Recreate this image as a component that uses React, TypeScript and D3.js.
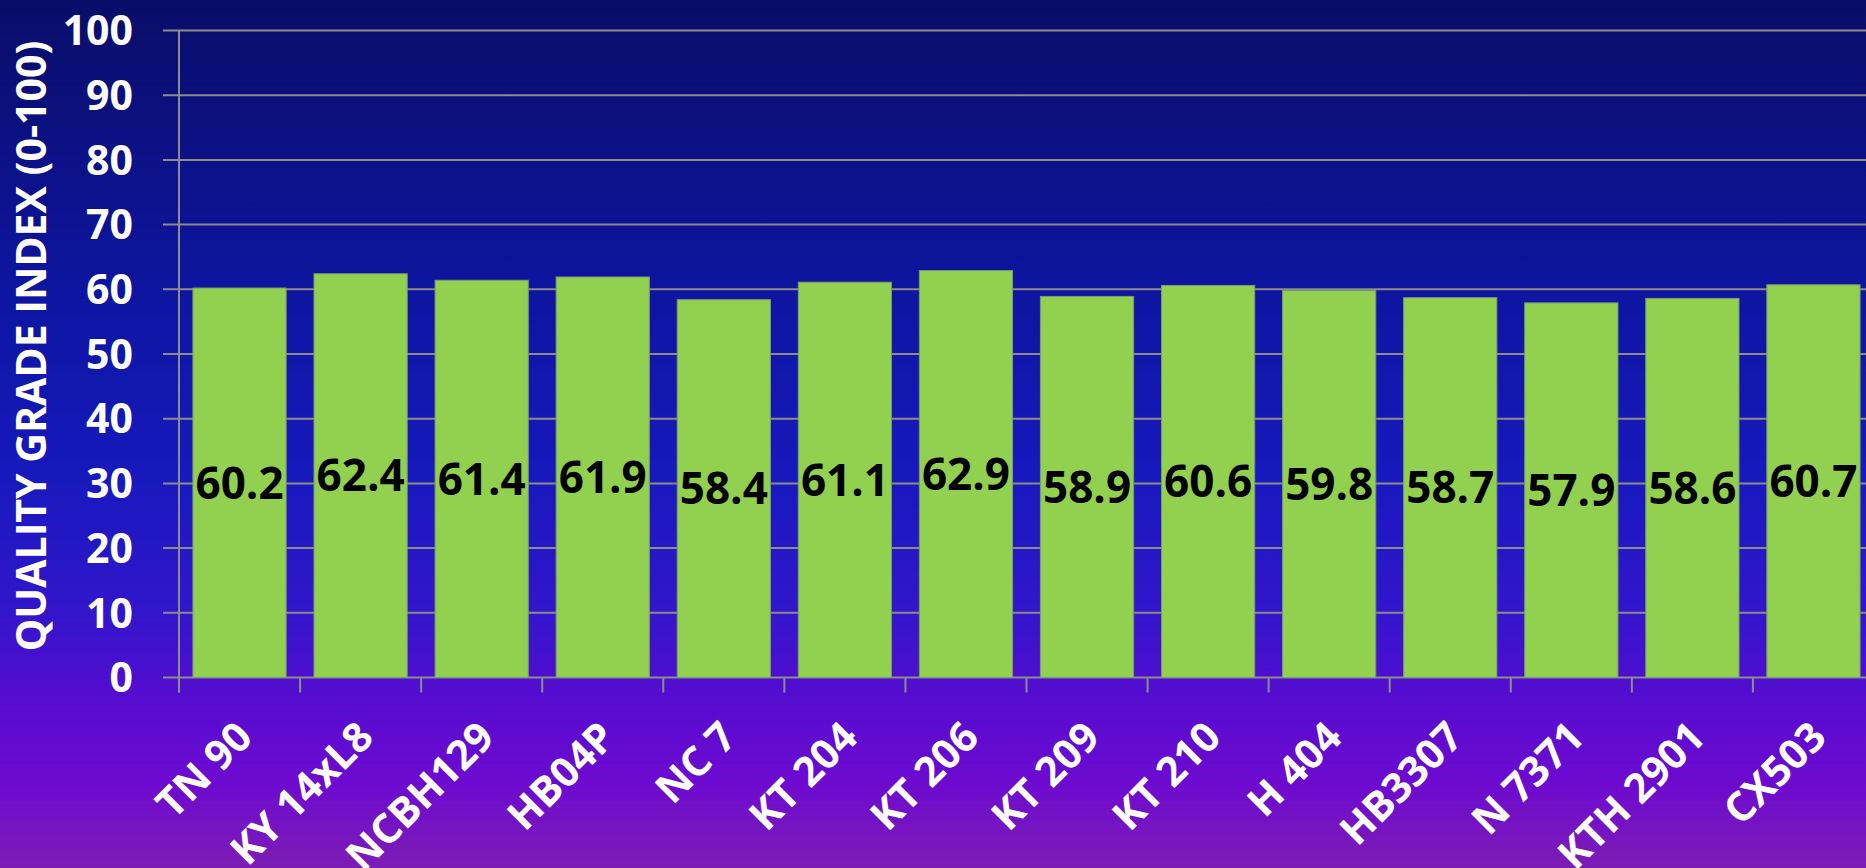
import React from 'react';
import * as d3 from 'd3';

const categories = [
  'TN 90', 'KY 14xL8', 'NCBH129', 'HB04P', 'NC 7', 'KT 204', 'KT 206',
  'KT 209', 'KT 210', 'H 404', 'HB3307', 'N 7371', 'KTH 2901', 'CX503',
];
const values = [60.2, 62.4, 61.4, 61.9, 58.4, 61.1, 62.9, 58.9, 60.6, 59.8, 58.7, 57.9, 58.6, 60.7];
const yTicks = [0, 10, 20, 30, 40, 50, 60, 70, 80, 90, 100];
const yTitle = 'QUALITY GRADE INDEX (0-100)';

const W = 1866;
const H = 868;
const FONT = '"Open Sans", "DejaVu Sans", sans-serif';

export default function App() {
  // plot area runs past the right edge, as in the original slide
  const plot = { left: 179, right: 1874, top: 30.5, bottom: 677.5 };

  const x = d3
    .scaleBand<string>()
    .domain(categories)
    .range([plot.left, plot.right])
    .paddingInner(0.23)
    .paddingOuter(0.115);

  const y = d3.scaleLinear().domain([0, 100]).range([plot.bottom, plot.top]);

  const step = x.step();
  const boundaries = d3.range(categories.length + 1).map(i => plot.left + i * step);

  return (
    <svg
      width={W}
      height={H}
      style={{ position: 'fixed', top: 0, left: 0, overflow: 'hidden' }}
      fontFamily={FONT}
    >
      <defs>
        <linearGradient id="bg" x1="0" y1="0" x2="0" y2="1">
          <stop offset="0%" stopColor="#090d68" />
          <stop offset="35%" stopColor="#0e15a2" />
          <stop offset="55%" stopColor="#1719bd" />
          <stop offset="70%" stopColor="#3116cb" />
          <stop offset="80%" stopColor="#540dcf" />
          <stop offset="90%" stopColor="#6d0ad0" />
          <stop offset="100%" stopColor="#7c1db5" />
        </linearGradient>
      </defs>
      <rect x={0} y={0} width={W} height={H} fill="url(#bg)" />

      {/* gridlines + y ticks */}
      {yTicks.map(t => (
        <line
          key={'g' + t}
          x1={plot.left - 16}
          x2={W}
          y1={y(t)}
          y2={y(t)}
          stroke="#8c8c8c"
          strokeWidth={2}
        />
      ))}
      <line x1={plot.left} x2={plot.left} y1={plot.top} y2={plot.bottom + 15} stroke="#8c8c8c" strokeWidth={2} />
      {boundaries.map((b, i) => (
        <line key={'t' + i} x1={b} x2={b} y1={plot.bottom} y2={plot.bottom + 15} stroke="#8c8c8c" strokeWidth={2} />
      ))}

      {yTicks.map(t => (
        <text
          key={'l' + t}
          x={133}
          y={y(t)}
          dy="0.36em"
          textAnchor="end"
          fill="#ffffff"
          fontWeight="bold"
          fontSize={41}
        >
          {t}
        </text>
      ))}

      <text
        transform={`translate(46,346) rotate(-90)`}
        textAnchor="middle"
        fill="#ffffff"
        fontWeight="bold"
        fontSize={41}
      >
        {yTitle}
      </text>

      {/* bars */}
      {categories.map((c, i) => (
        <rect
          key={'b' + c}
          x={x(c)}
          y={y(values[i])}
          width={x.bandwidth()}
          height={y(0) - y(values[i])}
          fill="#92d050"
          stroke="#7a9a72"
          strokeWidth={1}
        />
      ))}

      {/* value labels, centred in each bar */}
      {categories.map((c, i) => (
        <text
          key={'v' + c}
          x={(x(c) ?? 0) + x.bandwidth() / 2}
          y={(y(values[i]) + y(0)) / 2}
          dy="0.36em"
          textAnchor="middle"
          fill="#000000"
          fontWeight="bold"
          fontSize={44}
        >
          {values[i].toFixed(1)}
        </text>
      ))}

      {/* category labels */}
      {categories.map(c => {
        const cx = (x(c) ?? 0) + x.bandwidth() / 2 + 15;
        const cy = plot.bottom + 62;
        return (
          <text
            key={'c' + c}
            transform={`translate(${cx},${cy}) rotate(-45)`}
            textAnchor="end"
            fill="#ffffff"
            fontWeight="bold"
            fontSize={41}
          >
            {c}
          </text>
        );
      })}
    </svg>
  );
}
